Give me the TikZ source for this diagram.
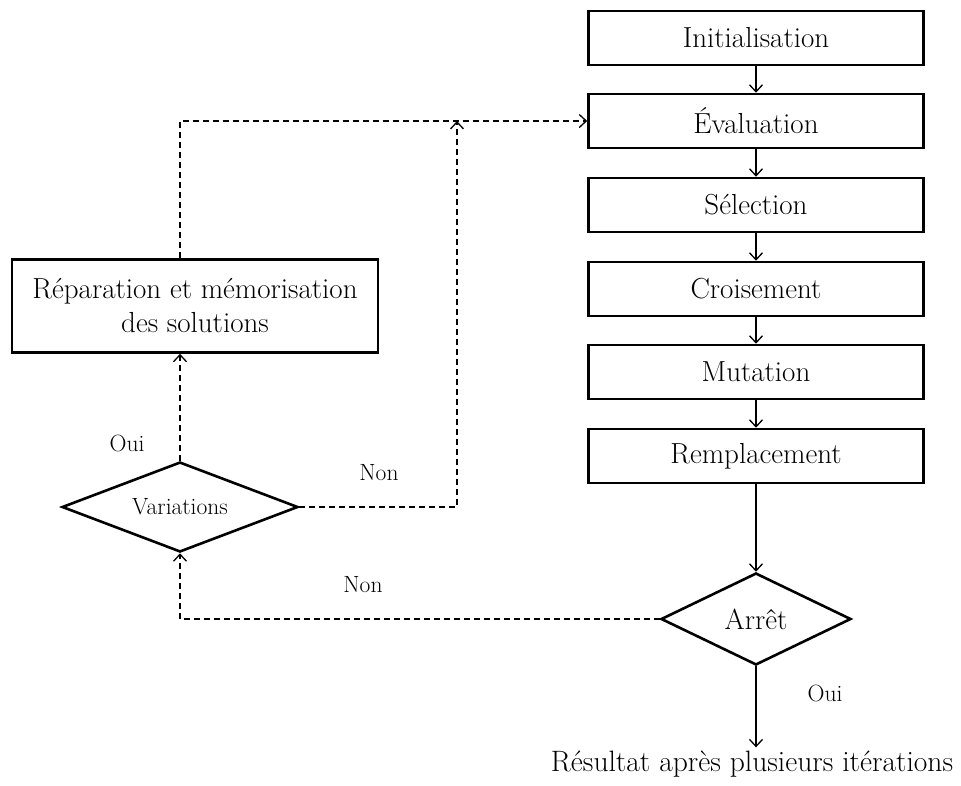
\documentclass[tikz,border=0pt]{standalone}
\usepackage{fontspec}
\usetikzlibrary{shapes.geometric,arrows.meta}

\tikzset{
    etape/.style={draw, line width=2.6pt, minimum width=335pt, minimum height=54pt,
        inner sep=0pt, font=\fontsize{29}{34}\selectfont},
    losange/.style={draw, diamond, line width=2.6pt, inner sep=0pt, aspect=2},
    fleche/.style={line width=1.3pt, -{Straight Barb[length=7pt,width=13pt,line width=1.3pt]}},
    tirets/.style={fleche, dash pattern=on 6pt off 4pt},
    etiq/.style={font=\fontsize{23.5}{28}\selectfont}
}

\begin{document}
\begin{tikzpicture}[x=1pt,y=-1pt]
        \useasboundingbox (0,0) rectangle (961,785);

        % chaine principale
        \foreach \nom/\txt/\y in {init/Initialisation/38, eval/Évaluation/121, sel/Sélection/205,
                                  crois/Croisement/289, mut/Mutation/372, rempl/Remplacement/456}{
            \node[etape] (\nom) at (756,\y) {\txt};
        }
        \foreach \a/\b in {init/eval, eval/sel, sel/crois, crois/mut, mut/rempl}{
            \draw[fleche] (\a) -- (\b);
        }

        \node[losange, minimum width=190pt, minimum height=92pt,
            font=\fontsize{29}{34}\selectfont] (arret) at (756,619) {Arrêt};
        \draw[fleche] (rempl) -- (arret);

        \node[font=\fontsize{29.5}{34}\selectfont] (res) at (752,764) {Résultat après plusieurs itérations};
        \draw[fleche] (arret.south) -- (arret.south |- res.north);

        % boucle de gauche
        \node[etape, minimum width=366pt, minimum height=93pt, align=center] (rep) at (195,306)
            {Réparation et mémorisation\\des solutions};
        \node[losange, minimum width=236pt, minimum height=90pt, etiq] (var) at (180,507) {Variations};
        \coordinate (jonction) at (457,121);

        \draw[tirets] (var.north) -- (rep.south -| var.north);
        \draw[tirets] (rep.north -| var.north) |- (eval.west);
        \draw[tirets] (var.east) -| (jonction);
        \draw[tirets] (arret.west) -| (var.south);

        \node[etiq] (oui1) at (127,443) {Oui};
        \node[etiq] (non1) at (379,473) {Non};
        \node[etiq] (non2) at (363,585) {Non};
        \node[etiq] (oui2) at (825,693) {Oui};
    \end{tikzpicture}
\end{document}
